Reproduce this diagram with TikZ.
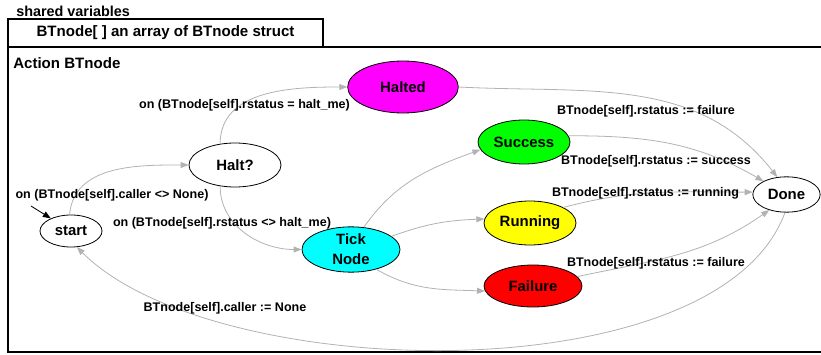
\documentclass[tikz,border=0pt]{standalone}
\usepackage{fontspec}
\setmainfont{Liberation Sans}
\usetikzlibrary{arrows.meta, shapes.geometric}

\definecolor{edgegray}{RGB}{178,178,178}
\definecolor{haltedfill}{RGB}{255,0,255}
\definecolor{tickfill}{RGB}{0,255,255}
\definecolor{successfill}{RGB}{0,255,0}
\definecolor{runningfill}{RGB}{255,255,0}
\definecolor{failurefill}{RGB}{255,0,0}

\tikzset{
  state/.style={ellipse, draw=black, line width=0.6pt, inner sep=0pt, align=center,
    font=\fontsize{11.2}{15}\selectfont\bfseries},
  trans/.style={draw=edgegray, line width=0.6pt,
    -{Triangle[length=6pt,width=4.5pt,fill=edgegray]}},
  lbl/.style={inner sep=0pt, font=\fontsize{9.4}{11}\selectfont\bfseries},
  title/.style={inner sep=0pt, font=\fontsize{11.3}{13}\selectfont\bfseries},
}

\begin{document}
\begin{tikzpicture}[x=0.75pt,y=0.75pt]
\useasboundingbox (0,0) rectangle (821,354);

%Shape: Rectangle
\draw [line width=0.8pt] (8,307) rectangle (323,335);
\draw [line width=0.8pt] (821,307) -- (8,307) -- (8,2) -- (821,2);

% Text Node
\node [anchor=west, inner sep=0pt, font=\fontsize{10.8}{12}\selectfont\bfseries] (shared) at (16,343) {shared variables};
% Text Node
\node [title] (array) at (165.5,321) {BTnode[ ] an array of BTnode struct};
% Text Node
\node [title, anchor=west] (action) at (13,290.5) {Action BTnode};

%Shape: Ellipse
\node [state, minimum width=46.5pt, minimum height=24pt] (start) at (71,123) {start};
\node [state, minimum width=69pt, minimum height=33pt] (halt) at (235,189) {Halt?};
\node [state, fill=haltedfill, minimum width=83pt, minimum height=39pt] (halted) at (403,267) {Halted};
\node [state, fill=tickfill, minimum width=73.5pt, minimum height=34pt] (tick) at (351,104.5) {Tick\\Node};
\node [state, fill=successfill, minimum width=69pt, minimum height=33pt] (success) at (524,212) {Success};
\node [state, fill=runningfill, minimum width=69pt, minimum height=33pt] (running) at (530,131) {Running};
\node [state, fill=failurefill, minimum width=73.5pt, minimum height=31.5pt] (failure) at (533,68) {Failure};
\node [state, minimum width=50.5pt, minimum height=26.5pt] (done) at (786.5,159.5) {Done};

%Straight Lines
\coordinate (init) at (31,148);
\draw [line width=0.6pt, -{Triangle[length=6pt,width=4.5pt]}] (init) -- (start);

%Curve Lines
\draw [trans] (start.95) to[out=85, in=180] (halt.west);
\draw [trans] (halt.125) to[out=90, in=180] (halted.west);
\draw [trans] (halt.235) to[out=-90, in=180] (tick.west);
\draw [trans] (tick.60) to[out=55, in=200] (success.190);
\draw [trans] (tick.18) to[out=20, in=182] (running.175);
\draw [trans] (tick.-38) to[out=-30, in=178] (failure.186);
\draw [trans] (halted.east) to[out=-3, in=128] (done.118);
\draw [trans] (success.8) to[out=0, in=150] (done.150);
\draw [trans] (running.25) to[out=15, in=180] (done.176);
\draw [trans] (failure.12) to[out=12, in=215] (done.222);
\draw [trans] (done.-95) to[out=-110, in=-45, looseness=0.7] (start.-70);

% Text Node
\node [lbl] (lhalt) at (244.5,249) {on (BTnode[self].rstatus = halt\_me)};
\node [lbl] (lcall) at (112,159) {on (BTnode[self].caller <> None)};
\node [lbl] (ltick) at (222,131) {on (BTnode[self].rstatus <> halt\_me)};
\node [lbl] (lhfail) at (646,243) {BTnode[self].rstatus := failure};
\node [lbl] (lsucc) at (656,192.5) {BTnode[self].rstatus := success};
\node [lbl] (lrun) at (645.5,161) {BTnode[self].rstatus := running};
\node [lbl] (lfail) at (656,90.5) {BTnode[self].rstatus := failure};
\node [lbl] (lnone) at (225,45.5) {BTnode[self].caller := None};

\end{tikzpicture}
\end{document}
